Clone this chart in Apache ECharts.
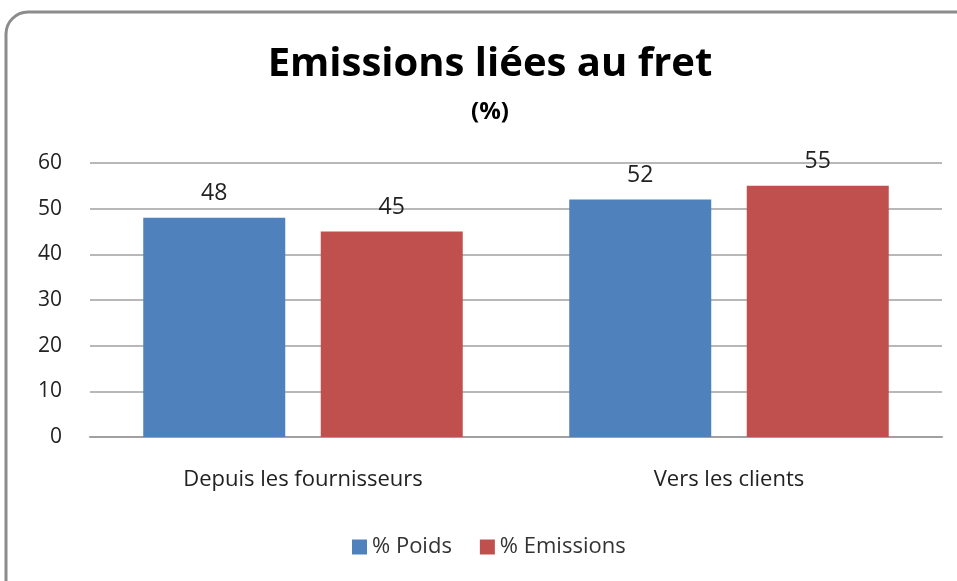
<!DOCTYPE html>
<html>
<head>
<meta charset="utf-8">
<script src="https://cdn.jsdelivr.net/npm/echarts@6/dist/echarts.min.js"></script>
<style>
  html, body {margin: 0; padding: 0; background: #fff;}
  #fretChart {width: 957px; height: 581px;}
</style>
</head>
<body>
<div id="fretChart"></div>
<script>
// données
var categories = ['Depuis les fournisseurs', 'Vers les clients'];
var poids = [48, 52];
var emissions = [45, 55];
var seriesNames = ['% Poids', '% Emissions'];

var font = '"Open Sans", "Noto Sans", sans-serif';

var chart = echarts.init(document.getElementById('fretChart'));
var option = {
  backgroundColor: '#fff',
  animation: false,
  title: {
    text: 'Emissions liées au fret',
    subtext: '(%)',
    left: 485,
    textAlign: 'center',
    top: 40,
    itemGap: 15,
    textStyle: {color: '#000', fontSize: 40, fontWeight: 'bold', fontFamily: font},
    subtextStyle: {color: '#000', fontSize: 24, fontWeight: 'bold', fontFamily: font},
  },
  legend: {
    bottom: 18,
    left: 347,
    itemWidth: 15,
    itemHeight: 15,
    itemGap: 28,
    icon: 'rect',
    textStyle: {color: '#333', fontSize: 22, fontFamily: font},
    data: seriesNames
  },
  grid: {left: 90, right: 15, top: 163, bottom: 144},
  xAxis: {
    type: 'category',
    data: categories,
    axisLine: {lineStyle: {color: '#a0a0a0', width: 2}},
    axisTick: {show: false},
    axisLabel: {color: '#222', fontSize: 22, fontFamily: font, margin: 32},
  },
  yAxis: {
    type: 'value',
    min: 0,
    max: 60,
    interval: 10,
    axisLine: {show: false},
    axisTick: {show: false},
    axisLabel: {color: '#222', fontSize: 21, fontFamily: font, margin: 28},
    splitLine: {lineStyle: {color: '#a0a0a0', width: 1.5}},
  },
  series: [
    {
      name: seriesNames[0],
      type: 'bar',
      data: poids,
      color: '#4f81bd',
      barGap: '25%',
      barCategoryGap: '25%',
      label: {show: true, position: 'top', distance: 13, color: '#222', fontSize: 23, fontFamily: font},
    },
    {
      name: seriesNames[1],
      type: 'bar',
      data: emissions,
      color: '#c0504d',
      label: {show: true, position: 'top', distance: 13, color: '#222', fontSize: 23, fontFamily: font},
    },
  ],
  graphic: [
    {
      type: 'rect',
      silent: true,
      z: 100,
      shape: {x: 6, y: 12, width: 980, height: 620, r: 22},
      style: {fill: null, stroke: '#8c8c8c', lineWidth: 3}
    }
  ]
};
chart.setOption(option);
</script>
</body>
</html>
